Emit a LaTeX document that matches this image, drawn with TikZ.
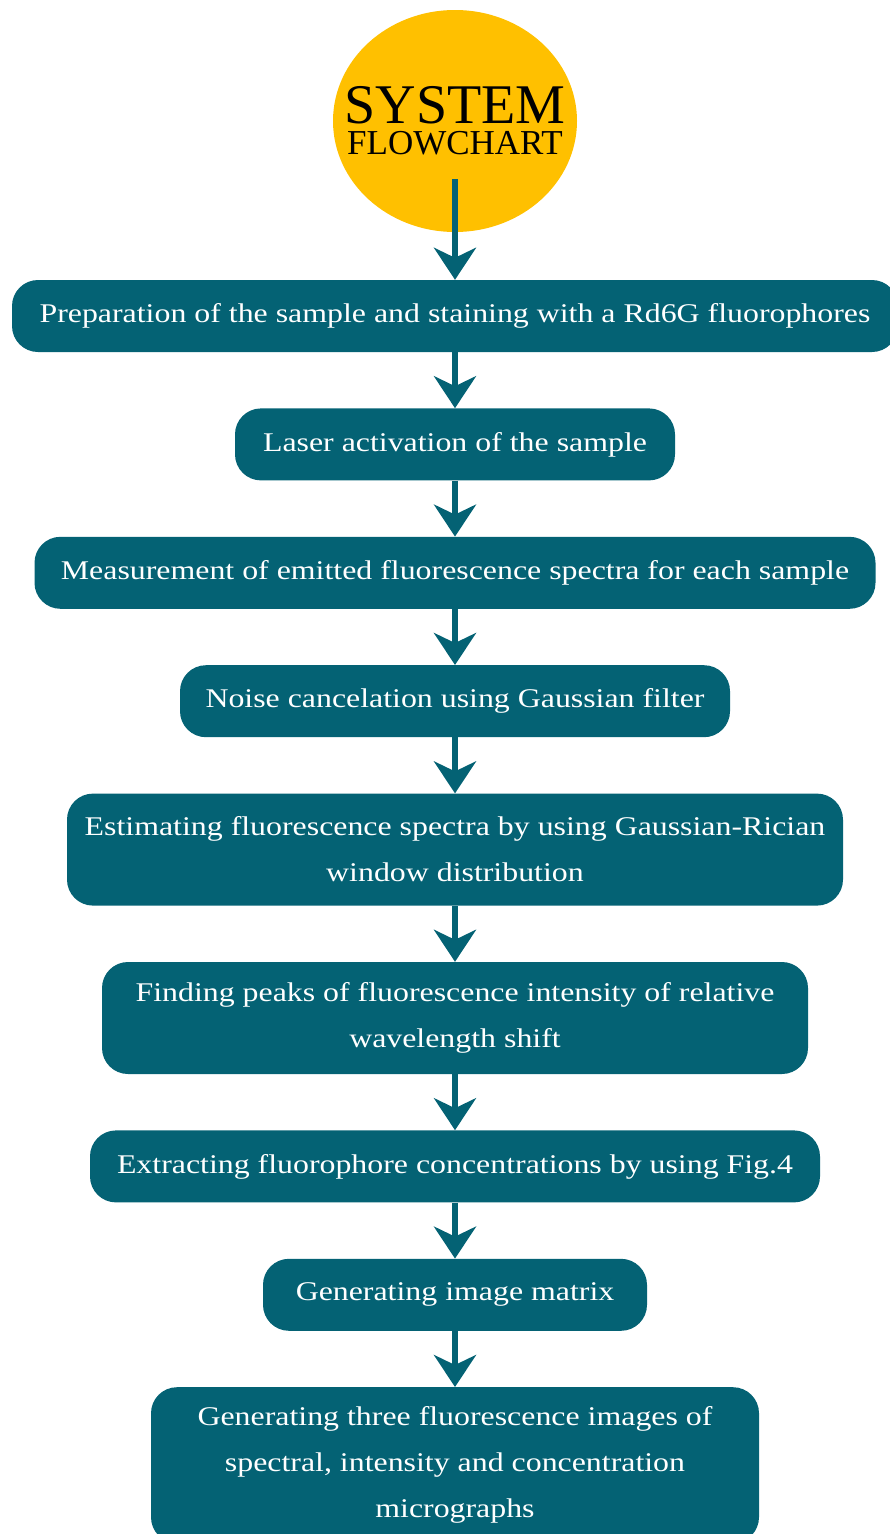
\documentclass[tikz,border=0pt]{standalone}
\usepackage{fontspec}
\setmainfont{Liberation Serif}[FakeStretch=1.18]
\newfontfamily\titlefont{Liberation Serif}
\usepackage{tikz}
\usetikzlibrary{positioning, arrows.meta, shapes.geometric}

\definecolor{flowteal}{RGB}{4,98,116}
\definecolor{flowsun}{RGB}{255,192,0}

\begin{document}
\begin{tikzpicture}[x=1pt, y=1pt,
    stepbox/.style={fill=flowteal, text=white, rounded corners=26pt, align=center,
          minimum height=72pt, inner sep=0pt, font=\fontsize{27}{46}\selectfont},
    flowarrow/.style={draw=flowteal, line width=6pt,
          -{Stealth[length=32pt, width=42pt, inset=10pt]}},
    node distance=56pt]
    \useasboundingbox (0, 0) rectangle (890, -1534);

    \node[ellipse, fill=flowsun, minimum width=244pt, minimum height=222pt, inner sep=0pt]
        (title) at (455, -121) {};
    \node[inner sep=0pt, align=center, font=\titlefont\fontsize{35}{31}\selectfont]
        (titletext) at (title.center)
        {{\fontsize{56}{31}\selectfont SYSTEM}\\FLOWCHART};
    \coordinate (start) at ([yshift=-58pt]title.center);

    \node[stepbox, minimum width=886pt] (prep) at (455, -316)
        {Preparation of the sample and staining with a Rd6G fluorophores};
    \node[stepbox, minimum width=440pt, below=of prep] (laser)
        {Laser activation of the sample};
    \node[stepbox, minimum width=841pt, below=of laser] (measure)
        {Measurement of emitted fluorescence spectra for each sample};
    \node[stepbox, minimum width=550pt, below=of measure] (noise)
        {Noise cancelation using Gaussian filter};
    \node[stepbox, minimum width=776pt, minimum height=112pt, below=of noise] (estimate)
        {Estimating fluorescence spectra by using Gaussian-Rician\\window distribution};
    \node[stepbox, minimum width=706pt, minimum height=112pt, below=of estimate] (peaks)
        {Finding peaks of fluorescence intensity of relative\\wavelength shift};
    \node[stepbox, minimum width=730pt, below=of peaks] (extract)
        {Extracting fluorophore concentrations by using Fig.4};
    \node[stepbox, minimum width=384pt, below=of extract] (matrix)
        {Generating image matrix};
    \node[stepbox, minimum width=608pt, minimum height=156pt, below=of matrix] (images)
        {Generating three fluorescence images of\\spectral, intensity and concentration\\micrographs};

    % arrows between the steps
    \draw[flowarrow] (start) -- (prep.north);
    \draw[flowarrow] (prep) -- (laser);
    \draw[flowarrow] (laser) -- (measure);
    \draw[flowarrow] (measure) -- (noise);
    \draw[flowarrow] (noise) -- (estimate);
    \draw[flowarrow] (estimate) -- (peaks);
    \draw[flowarrow] (peaks) -- (extract);
    \draw[flowarrow] (extract) -- (matrix);
    \draw[flowarrow] (matrix) -- (images);
\end{tikzpicture}
\end{document}
